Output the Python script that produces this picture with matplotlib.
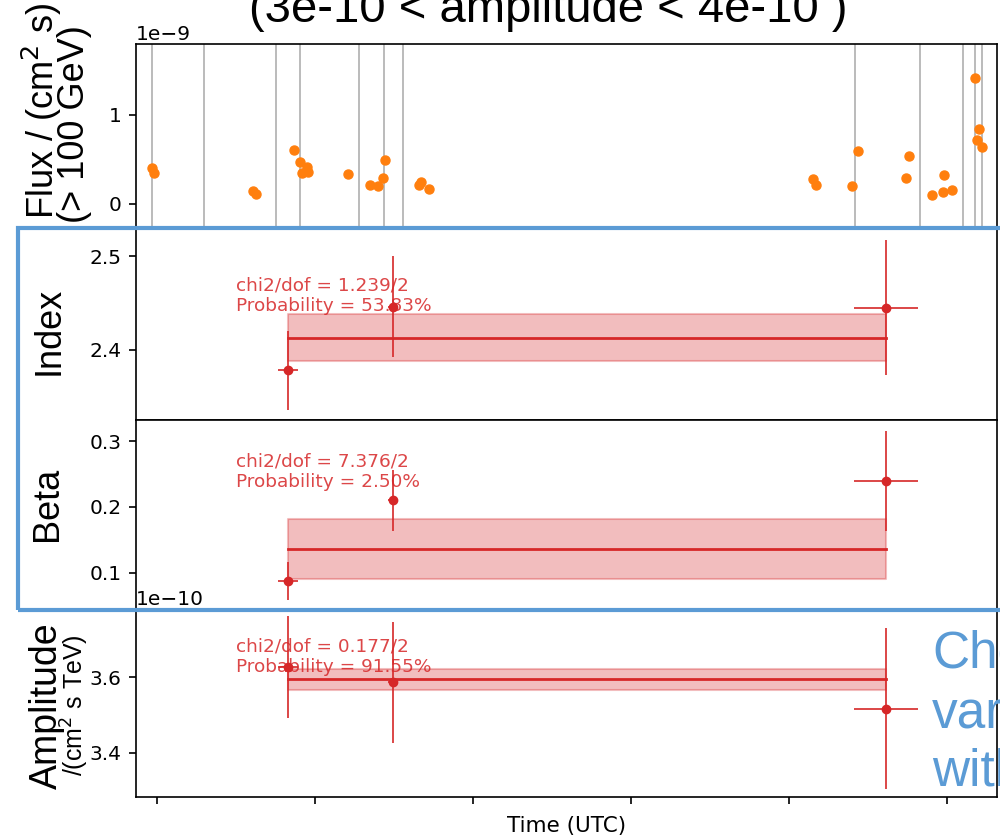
import numpy as np
import matplotlib
matplotlib.use("Agg")
import matplotlib.pyplot as plt
from matplotlib.patches import Rectangle

# %% data (time in arbitrary units, tick spacing = 1)
flux_t = [-0.034, -0.019, 0.609, 0.625, 0.869, 0.905, 0.947, 0.916, 0.958,
          1.211, 1.348, 1.401, 1.432, 1.443, 1.671, 1.660, 1.723,
          4.154, 4.171, 4.401, 4.435, 4.741, 4.759, 4.905, 4.973, 4.981,
          5.034, 5.179, 5.204, 5.188, 5.222]
flux_val = [0.399, 0.349, 0.147, 0.106, 0.609, 0.473, 0.410, 0.349, 0.361,
            0.335, 0.214, 0.200, 0.290, 0.489, 0.241, 0.211, 0.166,
            0.275, 0.214, 0.200, 0.594, 0.293, 0.534, 0.095, 0.132, 0.320,
            0.151, 1.414, 0.839, 0.715, 0.639]  # x 1e-9
bin_edges = [-0.034, 0.299, 0.751, 0.905, 1.280, 1.437, 1.555,
             4.420, 4.827, 5.099, 5.177, 5.220]

bin_t = [0.829, 1.494, 4.614]
bin_terr = [0.063, 0.03, 0.2]

index_val = [2.378, 2.446, 2.445]
index_err = [0.042, 0.054, 0.072]
index_fit, index_fit_err = 2.413, 0.025
index_txt = "chi2/dof = 1.239/2\nProbability = 53.83%"

beta_val = [0.088, 0.210, 0.240]
beta_err = [0.029, 0.046, 0.076]
beta_fit, beta_fit_err = 0.136, 0.045
beta_txt = "chi2/dof = 7.376/2\nProbability = 2.50%"

amp_val = [3.627, 3.587, 3.517]  # x 1e-10
amp_err = [0.136, 0.160, 0.213]
amp_fit, amp_fit_err = 3.595, 0.028
amp_txt = "chi2/dof = 0.177/2\nProbability = 91.55%"

xticks = [0, 1, 2, 3, 4, 5]

# %% figure
plt.rcParams['font.size'] = 14.5
fig = plt.figure(figsize=(10, 8.36), dpi=100)
W, H = 1000, 836

def box(top, bottom, left=136, right=997):
    return [left / W, (H - bottom) / H, (right - left) / W, (bottom - top) / H]

ax0 = fig.add_axes(box(44, 228))
ax1 = fig.add_axes(box(228, 420))
ax2 = fig.add_axes(box(420, 609))
ax3 = fig.add_axes(box(609, 797))
axes = [ax0, ax1, ax2, ax3]

red = '#d62728'
blue = '#5B9BD5'

# flux panel
for e in bin_edges:
    ax0.axvline(e, color='#b5b5b5', lw=1.3, zorder=1)
ax0.plot(flux_t, np.array(flux_val) * 1e-9, 'o', color='#ff7f0e',
         ms=6.5, zorder=3)
ax0.set_ylim(-0.274e-9, 1.80e-9)
ax0.set_yticks([0, 1e-9])

# parameter panels
def param_panel(ax, vals, errs, fit, fit_err, txt, ty, scale=1.0):
    v = np.array(vals) * scale
    e = np.array(errs) * scale
    ax.fill_between([bin_t[0], bin_t[-1]], (fit - fit_err) * scale,
                    (fit + fit_err) * scale, color=red, alpha=0.3, lw=1.5)
    ax.plot([bin_t[0], bin_t[-1]], [fit * scale] * 2, color=red, lw=2)
    ax.errorbar(bin_t, v, yerr=e, xerr=bin_terr, fmt='o', color=red,
                ms=6, elinewidth=1.2, capsize=0)
    ax.text(0.116, ty, txt, transform=ax.transAxes, color=red, alpha=0.85,
            fontsize=13.3, va='center', ha='left', linespacing=1.15)

param_panel(ax1, index_val, index_err, index_fit, index_fit_err, index_txt, 0.648)
ax1.set_ylim(2.325, 2.530)
ax1.set_yticks([2.4, 2.5])

param_panel(ax2, beta_val, beta_err, beta_fit, beta_fit_err, beta_txt, 0.725)
ax2.set_ylim(0.045, 0.332)
ax2.set_yticks([0.1, 0.2, 0.3])

param_panel(ax3, amp_val, amp_err, amp_fit, amp_fit_err, amp_txt, 0.747, 1e-10)
ax3.set_ylim(3.283e-10, 3.781e-10)
ax3.set_yticks([3.4e-10, 3.6e-10])

for ax in axes:
    ax.set_xlim(-0.133, 5.316)
    ax.set_xticks(xticks)
    ax.tick_params(labelsize=14.5, length=5, width=1.2, pad=5.5)
    for s in ax.spines.values():
        s.set_linewidth(1.2)
    ax.yaxis.get_offset_text().set_fontsize(14.5)
for ax in axes[:3]:
    ax.tick_params(axis='x', bottom=False, labelbottom=False)
ax3.set_xticklabels([''] * len(xticks))
ax3.set_xlabel("Time (UTC)", fontsize=15.5, labelpad=3)

# slide annotations
sf = 'Liberation Sans'
fig.text(548 / W, 1 - 22 / H, "(3e-10 < amplitude < 4e-10 )", family=sf,
         fontsize=34, ha='center', va='baseline')
fig.text(42 / W, 1 - 111 / H, "Flux / (cm$^2$ s)", family=sf, fontsize=26,
         rotation=90, ha='center', va='center')
fig.text(75 / W, 1 - 124 / H, "(> 100 GeV)", family=sf, fontsize=26,
         rotation=90, ha='center', va='center')
fig.text(49 / W, 1 - 331 / H, "Index", family=sf, fontsize=26,
         rotation=90, ha='center', va='center')
fig.text(48 / W, 1 - 504 / H, "Beta", family=sf, fontsize=26,
         rotation=90, ha='center', va='center')
fig.text(47 / W, 1 - 706 / H, "Amplitude", family=sf, fontsize=27,
         rotation=90, ha='center', va='center')
fig.text(75 / W, 1 - 705 / H, "/(cm$^2$ s TeV)", family=sf, fontsize=18,
         rotation=90, ha='center', va='center')

for word, yb in [("Check", 667), ("variability", 728), ("with", 785)]:
    fig.text(932 / W, 1 - yb / H, word, family=sf, fontsize=37, color=blue,
             ha='left', va='baseline', zorder=20)

fig.patches.append(Rectangle((18 / W, (H - 610) / H), 1.1, 382 / H,
                             transform=fig.transFigure, fill=False,
                             edgecolor=blue, lw=3, zorder=20))

fig.savefig("out.png", dpi=100)
